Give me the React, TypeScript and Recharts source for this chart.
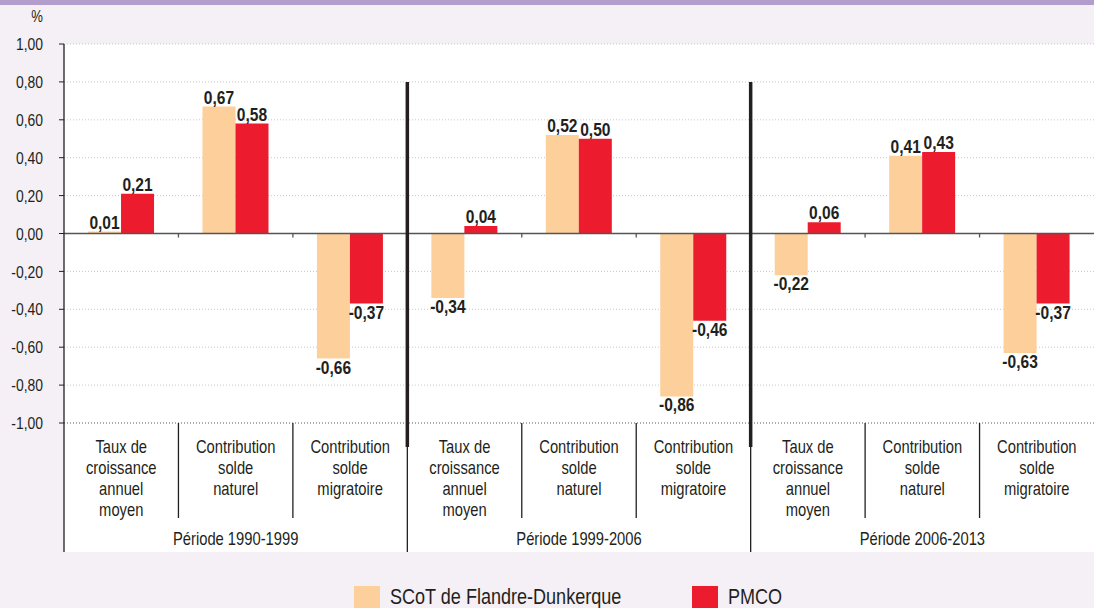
import { BarChart, Bar, XAxis, YAxis, CartesianGrid, ReferenceLine, LabelList, Legend } from 'recharts';

const categories = [
  'Taux de|croissance|annuel|moyen',
  'Contribution|solde|naturel',
  'Contribution|solde|migratoire',
  'Taux de|croissance|annuel|moyen',
  'Contribution|solde|naturel',
  'Contribution|solde|migratoire',
  'Taux de|croissance|annuel|moyen',
  'Contribution|solde|naturel',
  'Contribution|solde|migratoire',
];
const scotValues = [0.01, 0.67, -0.66, -0.34, 0.52, -0.86, -0.22, 0.41, -0.63];
const pmcoValues = [0.21, 0.58, -0.37, 0.04, 0.5, -0.46, 0.06, 0.43, -0.37];
const periods = ['Période 1990-1999', 'Période 1999-2006', 'Période 2006-2013'];
const yTicks = [-1, -0.8, -0.6, -0.4, -0.2, 0, 0.2, 0.4, 0.6, 0.8, 1];

const W = 1094;
const H = 608;
const PLOT_LEFT = 64;
const PLOT_TOP = 44;
const PLOT_BOTTOM = 423;
const PLOT_H = PLOT_BOTTOM - PLOT_TOP;
const BAND = (W - PLOT_LEFT) / categories.length;
const AREA_BOTTOM = 552;

// no narrow font installed: squeeze Liberation Sans horizontally
const FONT = '"Liberation Sans", Arial, sans-serif';
const NARROW = 0.82;
const INK = '#231f20';
const BEIGE = '#fdd09b';
const RED = '#ec1c2e';

const yOf = (v: number) => PLOT_TOP + ((1 - v) / 2) * PLOT_H;
const fmt = (v: number) => (Math.abs(v) < 1e-9 ? 0 : v).toFixed(2).replace('.', ',');

const data = categories.map((c, i) => ({ key: `c${i}`, label: c, scot: scotValues[i], pmco: pmcoValues[i] }));

function NText({ x, y, anchor = 'middle', size = 18, bold = false, children, dy }: any) {
  return (
    <text
      transform={`translate(${x},${y}) scale(${NARROW},1)`}
      x={0}
      y={0}
      dy={dy}
      textAnchor={anchor}
      fontFamily={FONT}
      fontSize={size}
      fontWeight={bold ? 'bold' : 'normal'}
      fill={INK}
    >
      {children}
    </text>
  );
}

function CategoryTick(props: any) {
  const { x, index } = props;
  const lines = categories[index].split('|');
  const left = x - BAND / 2;
  const periodStart = index % 3 === 0;
  return (
    <g>
      {index === 0 && <line x1={left} x2={left} y1={PLOT_BOTTOM} y2={AREA_BOTTOM} stroke={INK} strokeWidth={1.3} />}
      {periodStart && index > 0 && (
        <>
          <line x1={left} x2={left} y1={yOf(0.8)} y2={447} stroke={INK} strokeWidth={3.5} />
          <line x1={left} x2={left} y1={447} y2={AREA_BOTTOM} stroke={INK} strokeWidth={1.3} />
        </>
      )}
      {!periodStart && (
        <>
          <line x1={left} x2={left} y1={PLOT_BOTTOM} y2={518} stroke={INK} strokeWidth={1.3} />
          <line x1={left} x2={left} y1={yOf(0)} y2={yOf(0) + 4} stroke="#555" strokeWidth={1.3} />
        </>
      )}
      {lines.map((l, i) => (
        <NText key={i} x={x} y={453 + i * 21}>
          {l}
        </NText>
      ))}
      {index % 3 === 1 && (
        <NText x={x} y={545}>
          {periods[Math.floor(index / 3)]}
        </NText>
      )}
    </g>
  );
}

function YTick(props: any) {
  const { x, y, payload } = props;
  return (
    <NText x={x} y={y} anchor="end" size={17} dy="0.36em">
      {fmt(payload.value)}
    </NText>
  );
}

function ValueLabel(props: any) {
  const { x, y, width, height, value } = props;
  const top = Math.min(y, y + height);
  const bottom = Math.max(y, y + height);
  const ty = value < 0 ? bottom + 15 : top - 3;
  return (
    <NText x={x + width / 2} y={ty} size={19} bold>
      {fmt(value)}
    </NText>
  );
}

function LegendContent() {
  const item = (left: number, color: string, text: string) => (
    <div style={{ position: 'absolute', left, top: 34, display: 'flex', alignItems: 'center' }}>
      <div style={{ width: 26, height: 22, background: color }} />
      <span
        style={{
          marginLeft: 10,
          fontFamily: FONT,
          fontSize: 22,
          color: INK,
          lineHeight: '22px',
          display: 'inline-block',
          transform: `scaleX(${NARROW})`,
          transformOrigin: 'left center',
          whiteSpace: 'nowrap',
        }}
      >
        {text}
      </span>
    </div>
  );
  return (
    <div style={{ position: 'relative', width: W, height: 56 }}>
      {item(354, BEIGE, 'SCoT de Flandre-Dunkerque')}
      {item(692, RED, 'PMCO')}
    </div>
  );
}

export default function App() {
  return (
    <div style={{ position: 'fixed', left: 0, top: 0, width: W, height: H, background: '#f5f0f6', overflow: 'hidden' }}>
      <div style={{ position: 'absolute', left: 0, top: 0, width: W, height: 5, background: '#b39dcc' }} />
      <div
        style={{
          position: 'absolute',
          left: PLOT_LEFT,
          top: PLOT_TOP,
          width: W - PLOT_LEFT,
          height: AREA_BOTTOM - PLOT_TOP,
          background: '#ffffff',
        }}
      />
      <div style={{ position: 'absolute', left: 0, top: 0 }}>
        <BarChart
          width={W}
          height={H}
          data={data}
          margin={{ top: PLOT_TOP, right: 0, bottom: 0, left: 0 }}
          barCategoryGap="21%"
          barGap={0}
        >
          <text
            transform={`translate(43,22) scale(${NARROW},1)`}
            textAnchor="end"
            fontFamily={FONT}
            fontSize={16}
            fill={INK}
          >
            %
          </text>
          <CartesianGrid vertical={false} stroke="#c8c8c8" strokeDasharray="1 2" />
          <XAxis
            dataKey="key"
            axisLine={false}
            tickLine={false}
            tickSize={0}
            tickMargin={0}
            height={AREA_BOTTOM - PLOT_BOTTOM}
            interval={0}
            tick={(p: any) => <CategoryTick {...p} />}
          />
          <YAxis
            width={PLOT_LEFT}
            domain={[-1, 1]}
            ticks={yTicks}
            interval={0}
            axisLine={{ stroke: INK, strokeWidth: 1.3 }}
            tickLine={{ stroke: INK }}
            tickSize={5}
            tickMargin={16}
            tick={(p: any) => <YTick {...p} />}
          />
          <ReferenceLine y={-1} stroke="#777" strokeDasharray="1 2" />
          <ReferenceLine y={0} stroke="#555" strokeWidth={1.5} />
          <Legend verticalAlign="bottom" height={56} content={() => <LegendContent />} />
          <Bar dataKey="scot" name="SCoT de Flandre-Dunkerque" fill={BEIGE} isAnimationActive={false}>
            <LabelList dataKey="scot" content={(p: any) => <ValueLabel {...p} />} />
          </Bar>
          <Bar dataKey="pmco" name="PMCO" fill={RED} isAnimationActive={false}>
            <LabelList dataKey="pmco" content={(p: any) => <ValueLabel {...p} />} />
          </Bar>
        </BarChart>
      </div>
    </div>
  );
}
